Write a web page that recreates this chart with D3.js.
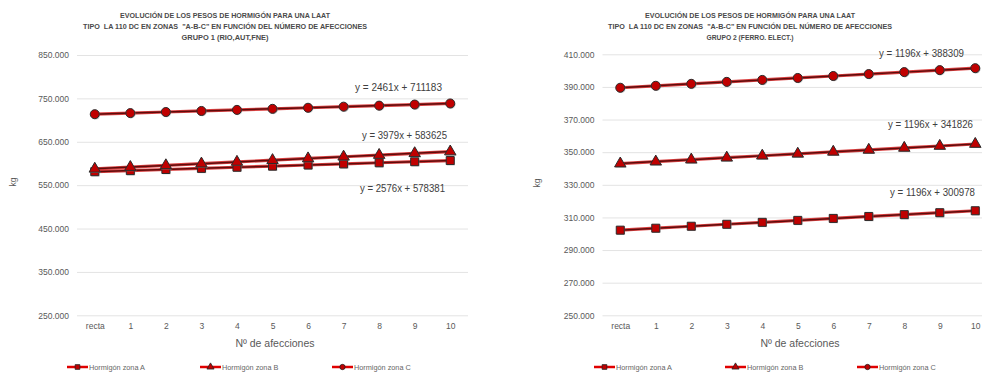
<!DOCTYPE html>
<html><head><meta charset="utf-8">
<script src="https://cdn.jsdelivr.net/npm/d3@7"></script>
<style>body{margin:0;background:#fff}svg{display:block}text{font-family:"Liberation Sans",Arial,sans-serif}.pre{white-space:pre}</style>
</head><body><svg id="c" width="982" height="372"></svg>
<script>
const categories = ["recta","1","2","3","4","5","6","7","8","9","10"];
const seriesNames = ["Hormigón zona A","Hormigón zona B","Hormigón zona C"];
const g1A = [581000,583500,586100,588700,591300,593800,596400,599000,601600,604100,606700];
const g1B = [587600,591600,595600,599500,603500,607500,611500,615500,619400,623400,627400];
const g1C = [713600,716100,718600,721000,723500,725900,728400,730900,733300,735800,738300];
const g2A = [302200,303400,304600,305800,307000,308200,309400,310600,311700,312900,314100];
const g2B = [343000,344200,345400,346600,347800,349000,350200,351400,352600,353800,355000];
const g2C = [389500,390700,391900,393100,394300,395500,396700,397900,399100,400300,401500];
const trend1 = [[2576,578381],[3979,583625],[2461,711183]];
const trend2 = [[1196,300978],[1196,341826],[1196,388309]];
const ticks1 = [250000,350000,450000,550000,650000,750000,850000];
const ticks2 = [250000,270000,290000,310000,330000,350000,370000,390000,410000];
const titles1 = ["EVOLUCIÓN DE LOS PESOS DE HORMIGÓN PARA UNA LAAT","TIPO  LA 110 DC EN ZONAS  \"A-B-C\" EN FUNCIÓN DEL NÚMERO DE AFECCIONES","GRUPO 1 (RIO,AUT,FNE)"];
const titles2 = ["EVOLUCIÓN DE LOS PESOS DE HORMIGÓN PARA UNA LAAT","TIPO  LA 110 DC EN ZONAS  \"A-B-C\" EN FUNCIÓN DEL NÚMERO DE AFECCIONES","GRUPO 2 (FERRO. ELECT.)"];

const svg = d3.select("#c");
const fmt = d => d3.format(",")(d).replace(/,/g,".");
const shapes = [d3.symbolSquare, d3.symbolTriangle, d3.symbolCircle];
const shapeSize = [64, 56, 64];

function eqText(t){ return "y = " + t[0] + "x + " + t[1]; }

function chart(cfg){
  const g = svg.append("g");
  const x = d3.scalePoint().domain(categories).range([cfg.x0, cfg.x1]).padding(0.5);
  const y = d3.scaleLinear().domain(cfg.domain).range([315.3, cfg.top]);
  const ya = g.append("g").attr("transform",`translate(${cfg.x0},0)`)
    .call(d3.axisLeft(y).tickValues(cfg.ticks).tickSize(-(cfg.x1-cfg.x0)).tickFormat(fmt).tickPadding(8));
  ya.select(".domain").remove();
  ya.selectAll("line").attr("stroke","#e3e3e3").attr("stroke-width",1);
  ya.selectAll("text").attr("fill","#595959").style("font-size","8.5px").style("font-family","Liberation Sans, Arial");
  const xa = g.append("g").attr("transform","translate(0,315.3)")
    .call(d3.axisBottom(x).tickSize(0).tickPadding(8));
  xa.select(".domain").remove();
  xa.selectAll("text").attr("fill","#595959").style("font-size","8.5px").style("font-family","Liberation Sans, Arial");
  cfg.titles.forEach((t,i)=>{
    g.append("text").attr("class","pre").attr("x",cfg.tc).attr("y",[18,28.7,40.3][i]).attr("text-anchor","middle")
      .attr("font-weight","bold").attr("font-size","7.6px").attr("fill","#4a4a4a")
      .attr("textLength",[210,284,87][i].toString()).attr("lengthAdjust","spacingAndGlyphs").text(t);
  });
  g.append("text").attr("x",cfg.xt).attr("y",346.5).attr("text-anchor","middle")
    .attr("font-size","10.5px").attr("fill","#595959").text("Nº de afecciones");
  g.append("text").attr("transform",`translate(${cfg.kx},${cfg.ky}) rotate(-90)`).attr("text-anchor","middle")
    .attr("font-size","8.5px").attr("fill","#595959").text("kg");
  cfg.series.forEach((vals,si)=>{
    const line = d3.line().x((d,i)=>x(categories[i])).y(d=>y(d));
    g.append("path").datum(vals).attr("d",line).attr("fill","none").attr("stroke","#d21f1f").attr("stroke-width",3.2).attr("stroke-opacity",0.85);
    const tr = cfg.trends[si];
    const tv = categories.map((c,i)=>tr[0]*(i+1)+tr[1]);
    g.append("path").datum(tv).attr("d",line).attr("fill","none").attr("stroke","#5e0b0b").attr("stroke-width",1.5);
    const sym = d3.symbol().type(shapes[si]).size(shapeSize[si]);
    g.selectAll(null).data(vals).enter().append("path")
      .attr("transform",(d,i)=>`translate(${x(categories[i])+0.8},${y(d)+0.8})`)
      .attr("d",sym).attr("fill","#9a9a9a").attr("opacity",0.6);
    g.selectAll(null).data(vals).enter().append("path")
      .attr("transform",(d,i)=>`translate(${x(categories[i])},${y(d)})`)
      .attr("d",sym).attr("fill","#c00000").attr("stroke","#2b2b2b").attr("stroke-width",1);
    const ep = cfg.eqPos[si];
    g.append("text").attr("x",ep[0]).attr("y",ep[1]).attr("font-size","10px").attr("fill","#404040")
      .attr("textLength",ep[2]).attr("lengthAdjust","spacingAndGlyphs").text(eqText(tr));
  });
  cfg.legend.forEach((lx,si)=>{
    const ly = 367;
    g.append("line").attr("x1",lx).attr("x2",lx+21).attr("y1",ly).attr("y2",ly).attr("stroke","#e00000").attr("stroke-width",2.5);
    g.append("path").attr("transform",`translate(${lx+10.5},${ly})`).attr("d",d3.symbol().type(shapes[si]).size(22)())
      .attr("fill","#c00000").attr("stroke","#222").attr("stroke-width",0.8);
    g.append("text").attr("x",lx+22).attr("y",ly+2.7).attr("font-size","7.3px").attr("fill","#666").text(seriesNames[si]);
  });
}

chart({x0:77,x1:468,domain:[250000,850000],top:55,ticks:ticks1,titles:titles1,tc:225,xt:275,kx:16,ky:182,
  series:[g1A,g1B,g1C],trends:trend1,
  eqPos:[[360,191.5,85],[362,138.5,85],[355,90.5,87]],
  legend:[67,200,332]});
chart({x0:602.5,x1:993,domain:[250000,410000],top:54.3,ticks:ticks2,titles:titles2,tc:750,xt:800,kx:540,ky:183,
  series:[g2A,g2B,g2C],trends:trend2,
  eqPos:[[890,195.5,85],[888,127.5,85],[879,56.5,85]],
  legend:[594,725,857]});
</script></body></html>
